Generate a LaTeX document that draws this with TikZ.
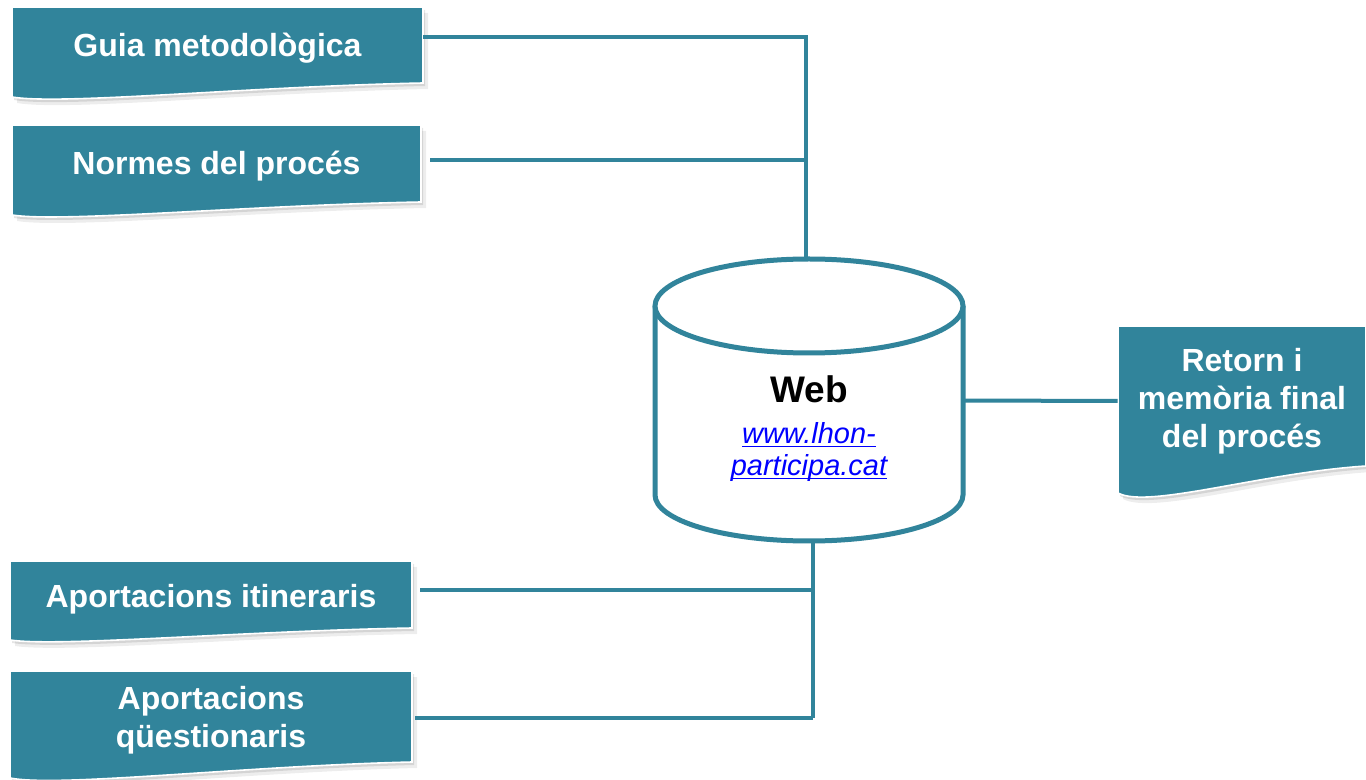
\documentclass[tikz,border=0pt]{standalone}
\usepackage{fontspec}
\setmainfont{Liberation Sans}
\usetikzlibrary{calc}
\definecolor{tealbox}{HTML}{31849B}
\definecolor{linkblue}{HTML}{0000FF}
\tikzset{
  docfill/.style={fill=tealbox, draw=white, line width=0.8pt},
  docshadowa/.style={fill=black, opacity=0.10},
  docshadowb/.style={fill=black, opacity=0.07},
  boxtext/.style={text=white, font=\fontsize{16}{19}\selectfont\bfseries, align=center, inner sep=0pt},
  conn/.style={draw=tealbox, line width=2pt},
  cyl/.style={draw=tealbox, line width=2.5pt, fill=white},
}
% #1 left x, #2 top y, #3 right x, #4 bottom-left y, #5 bottom-right y
\newcommand\docpath[5]{(#1,#2) -- (#3,#2) -- (#3,#5) .. controls ({#3-0.42*(#3-#1)},{#5+0.25*(#4-#5)}) and ({#1+0.12*(#3-#1)},{#4+0.6*(#4-#5)}) .. (#1,#4) -- cycle}
\newcommand\docshape[5]{%
  \fill[docshadowb, shift={(5,6)}] \docpath{#1}{#2}{#3}{#4}{#5};
  \fill[docshadowa, shift={(2,3)}] \docpath{#1}{#2}{#3}{#4}{#5};
  \path[docfill] \docpath{#1}{#2}{#3}{#4}{#5};
}
\newcommand\linkul[1]{\setbox0\hbox{#1}\rlap{\rule[-1.8pt]{\wd0}{0.6pt}}\box0}
\begin{document}
\begin{tikzpicture}[x=0.5pt, y=-0.5pt]
\useasboundingbox[fill=white] (0,0) rectangle (1366,780);

% document shapes
\docshape{12}{7}{423}{97}{83}
\docshape{12}{125}{421}{215}{202}
\docshape{10}{561}{412}{640}{628}
\docshape{10}{671}{412}{778}{762}
\docshape{1118}{326}{1366}{493}{466}

\node[boxtext, minimum width=205.5pt] (guia) at (217.5,48) {Guia metodològica};
\node[boxtext, minimum width=204.5pt] (normes) at (216.5,166) {Normes del procés};
\node[boxtext, minimum width=201pt] (itin) at (211,599) {Aportacions itineraris};
\node[boxtext, minimum width=201pt] (quest) at (211,720) {Aportacions\\qüestionaris};
\node[boxtext, minimum width=124pt, minimum height=77pt] (retorn) at (1242,401) {Retorn i\\memòria final\\del procés};

% cylinder
\path[cyl] (655,306) -- (655,495) .. controls (655,520.4) and (723.9,541) .. (809,541)
  .. controls (894.1,541) and (963,520.4) .. (963,495) -- (963,306);
\draw[cyl] (809,306) ellipse [x radius=77pt, y radius=23.5pt];
\node[minimum width=154pt, minimum height=140.5pt, inner sep=0pt] (web) at (809,400.5) {};
\node[align=center, inner sep=0pt, font=\fontsize{14.5}{16}\selectfont] (weblabel) at (809,429)
  {{\fontsize{18.5}{20.5}\selectfont\bfseries Web}\\[4.5pt]
   {\color{linkblue}\itshape\linkul{www.lhon-}}\\
   {\color{linkblue}\itshape\linkul{participa.cat}}};

% connectors
\coordinate (jt) at (806,37);
\coordinate (jn) at (806,160);
\coordinate (jb) at (813,590);
\coordinate (jq) at (813,718);
\draw[conn] (guia.east |- jt) -- (jt) -- (jt |- web.north);
\draw[conn] ([xshift=4.5pt]normes.east |- jn) -- (jn);
\draw[conn] (jb |- web.south) -- (jq);
\draw[conn] ([xshift=4pt]itin.east |- jb) -- (jb);
\draw[conn] ([xshift=1.5pt]quest.east |- jq) -- (jq);
\draw[conn] (web.east) -- (retorn.west);
\end{tikzpicture}
\end{document}
